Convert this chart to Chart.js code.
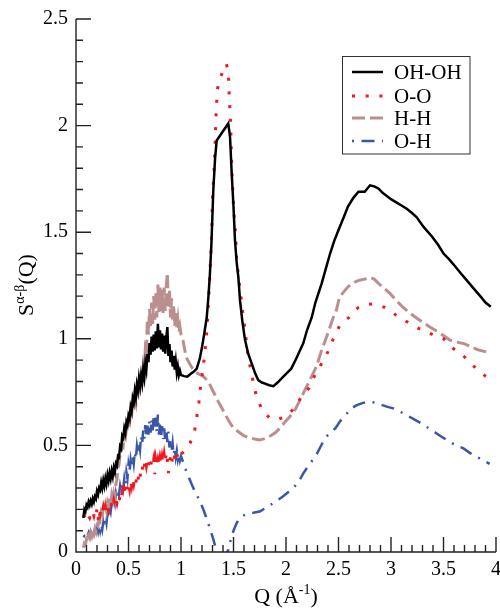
<!DOCTYPE html>
<html>
<head>
<meta charset="utf-8">
<script src="https://cdn.jsdelivr.net/npm/chart.js@4.4.1/dist/chart.umd.min.js"></script>
<style>
  html, body { margin: 0; padding: 0; background: #fff; }
  #sq { display: block; }
</style>
</head>
<body>
<canvas id="sq" width="500" height="609"></canvas>
<script>
'use strict';

const serif = '"Liberation Serif", "Times New Roman", serif';

// low-Q part (noisy), same Q grid for the four partials
const qLow = [
  0.07, 0.08, 0.09, 0.10, 0.11, 0.12, 0.13, 0.14, 0.15, 0.16,
  0.17, 0.18, 0.19, 0.20, 0.21, 0.22, 0.23, 0.24, 0.25, 0.26,
  0.27, 0.28, 0.29, 0.30, 0.31, 0.32, 0.33, 0.34, 0.35, 0.36,
  0.37, 0.38, 0.39, 0.40, 0.41, 0.42, 0.43, 0.44, 0.45, 0.46,
  0.47, 0.48, 0.49, 0.50, 0.51, 0.52, 0.53, 0.54, 0.55, 0.56,
  0.57, 0.58, 0.59, 0.60, 0.61, 0.62, 0.63, 0.64, 0.65, 0.66,
  0.67, 0.68, 0.69, 0.70, 0.71, 0.72, 0.73, 0.74, 0.75, 0.76,
  0.77, 0.78, 0.79, 0.80, 0.81, 0.82, 0.83, 0.84, 0.85, 0.86,
  0.87, 0.88, 0.89, 0.90, 0.91, 0.92, 0.93, 0.94, 0.95, 0.96,
  0.97, 0.98, 0.99, 1.00,
];

const ohohLow = [
  0.16, 0.20, 0.19, 0.22, 0.21, 0.235, 0.22, 0.24, 0.225, 0.25,
  0.235, 0.26, 0.25, 0.285, 0.27, 0.30, 0.29, 0.325, 0.30, 0.335,
  0.31, 0.345, 0.32, 0.36, 0.335, 0.37, 0.345, 0.38, 0.355, 0.395,
  0.375, 0.415, 0.405, 0.45, 0.445, 0.495, 0.485, 0.545, 0.535, 0.58,
  0.56, 0.61, 0.595, 0.64, 0.625, 0.68, 0.66, 0.72, 0.70, 0.755,
  0.725, 0.785, 0.76, 0.815, 0.78, 0.83, 0.795, 0.855, 0.82, 0.885,
  0.855, 0.93, 0.89, 0.98, 0.925, 1.01, 0.94, 1.02, 0.945, 1.035,
  0.955, 1.07, 0.96, 1.04, 0.95, 1.025, 0.94, 1.015, 0.93, 1.005,
  1.055, 0.92, 0.975, 0.89, 0.945, 0.87, 0.92, 0.855, 0.895, 0.84,
  0.87, 0.83, 0.85, 0.83,
];

const ooLow = [
  0.165, 0.17, 0.155, 0.165, 0.155, 0.17, 0.16, 0.175, 0.165, 0.185,
  0.17, 0.195, 0.175, 0.20, 0.15, 0.20, 0.18, 0.205, 0.185, 0.21,
  0.185, 0.21, 0.19, 0.215, 0.195, 0.22, 0.20, 0.23, 0.21, 0.24,
  0.22, 0.25, 0.23, 0.255, 0.235, 0.265, 0.245, 0.28, 0.26, 0.295,
  0.275, 0.31, 0.29, 0.32, 0.295, 0.335, 0.31, 0.345, 0.32, 0.35,
  0.325, 0.36, 0.335, 0.375, 0.35, 0.395, 0.38, 0.425, 0.40, 0.435,
  0.405, 0.435, 0.405, 0.43, 0.40, 0.43, 0.41, 0.435, 0.365, 0.43,
  0.40, 0.43, 0.405, 0.44, 0.41, 0.445, 0.415, 0.455, 0.42, 0.47,
  0.43, 0.37, 0.42, 0.445, 0.41, 0.45, 0.425, 0.455, 0.435, 0.46,
  0.445, 0.465, 0.45, 0.46,
];

const hhLow = [
  0.02, 0.04, 0.035, 0.06, 0.05, 0.075, 0.065, 0.09, 0.075, 0.10,
  0.085, 0.11, 0.095, 0.125, 0.12, 0.16, 0.15, 0.185, 0.17, 0.205,
  0.19, 0.22, 0.195, 0.23, 0.21, 0.25, 0.23, 0.265, 0.24, 0.275,
  0.255, 0.32, 0.34, 0.395, 0.41, 0.46, 0.465, 0.51, 0.50, 0.545,
  0.535, 0.575, 0.57, 0.615, 0.605, 0.655, 0.645, 0.69, 0.675, 0.715,
  0.695, 0.745, 0.735, 0.79, 0.77, 0.83, 0.805, 0.87, 0.84, 0.95,
  0.93, 1.09, 1.02, 1.14, 1.06, 1.17, 1.07, 1.20, 1.09, 1.22,
  1.10, 1.255, 1.12, 1.24, 1.13, 1.23, 1.12, 1.24, 1.13, 1.25,
  1.31, 1.14, 1.23, 1.10, 1.19, 1.08, 1.16, 1.06, 1.13, 1.05,
  1.09, 1.03, 1.055, 1.02,
];

const ohLow = [
  0.07, 0.075, 0.07, 0.085, 0.075, 0.09, 0.075, 0.095, 0.08, 0.10,
  0.085, 0.105, 0.09, 0.115, 0.095, 0.125, 0.10, 0.13, 0.105, 0.14,
  0.115, 0.16, 0.135, 0.185, 0.16, 0.21, 0.19, 0.235, 0.21, 0.255,
  0.23, 0.275, 0.25, 0.295, 0.27, 0.31, 0.285, 0.33, 0.30, 0.345,
  0.315, 0.375, 0.345, 0.41, 0.38, 0.43, 0.395, 0.45, 0.415, 0.47,
  0.435, 0.495, 0.46, 0.515, 0.48, 0.545, 0.505, 0.57, 0.53, 0.595,
  0.54, 0.60, 0.55, 0.615, 0.56, 0.625, 0.57, 0.635, 0.575, 0.63,
  0.56, 0.645, 0.55, 0.60, 0.535, 0.59, 0.53, 0.58, 0.52, 0.575,
  0.515, 0.565, 0.49, 0.53, 0.47, 0.51, 0.455, 0.49, 0.445, 0.475,
  0.435, 0.46, 0.43, 0.45,
];

// smooth part above Q = 1
const qOhohHigh = [
  1.03, 1.06, 1.09, 1.12, 1.15, 1.18, 1.20, 1.22, 1.245, 1.26,
  1.275, 1.29, 1.308, 1.325, 1.34, 1.45, 1.467, 1.483, 1.50, 1.514,
  1.53, 1.546, 1.562, 1.585, 1.61, 1.64, 1.673, 1.705, 1.736, 1.77,
  1.80, 1.84, 1.88, 1.92, 1.97, 2.01, 2.05, 2.10, 2.165, 2.20,
  2.245, 2.28, 2.34, 2.38, 2.42, 2.46, 2.50, 2.55, 2.59, 2.64,
  2.69, 2.75, 2.80, 2.84, 2.88, 2.92, 2.96, 3.00, 3.05, 3.10,
  3.15, 3.20, 3.245, 3.31, 3.39, 3.45, 3.50, 3.55, 3.61, 3.66,
  3.72, 3.78, 3.85, 3.90, 3.95,
];
const ohohHigh = [
  0.825, 0.822, 0.835, 0.845, 0.86, 0.91, 0.96, 1.02, 1.10, 1.19,
  1.30, 1.45, 1.70, 1.85, 1.93, 2.01, 1.947, 1.775, 1.62, 1.463,
  1.36, 1.29, 1.18, 1.08, 0.994, 0.93, 0.885, 0.84, 0.806, 0.795,
  0.79, 0.782, 0.778, 0.795, 0.82, 0.84, 0.86, 0.91, 0.98, 1.04,
  1.10, 1.17, 1.26, 1.33, 1.40, 1.46, 1.51, 1.57, 1.62, 1.66,
  1.69, 1.69, 1.72, 1.715, 1.705, 1.685, 1.67, 1.655, 1.64, 1.625,
  1.61, 1.59, 1.57, 1.525, 1.48, 1.44, 1.40, 1.375, 1.34, 1.31,
  1.275, 1.24, 1.20, 1.17, 1.15,
];

const qOoHigh = [
  1.03, 1.06, 1.086, 1.11, 1.13, 1.15, 1.17, 1.19, 1.21, 1.23,
  1.25, 1.27, 1.29, 1.30, 1.314, 1.324, 1.333, 1.346, 1.378, 1.43,
  1.45, 1.46, 1.473, 1.483, 1.50, 1.52, 1.53, 1.546, 1.578, 1.61,
  1.64, 1.69, 1.72, 1.77, 1.81, 1.85, 1.90, 1.97, 2.02, 2.07,
  2.11, 2.15, 2.22, 2.28, 2.34, 2.40, 2.45, 2.51, 2.56, 2.60,
  2.65, 2.69, 2.75, 2.82, 2.88, 2.94, 3.00, 3.05, 3.12, 3.20,
  3.28, 3.37, 3.44, 3.50, 3.55, 3.59, 3.64, 3.69, 3.74, 3.79,
  3.85, 3.90, 3.95,
];
const ooHigh = [
  0.47, 0.49, 0.51, 0.54, 0.57, 0.634, 0.70, 0.79, 0.86, 0.947,
  1.06, 1.25, 1.46, 1.66, 1.78, 1.91, 2.04, 2.17, 2.23, 2.29,
  2.26, 2.135, 2.01, 1.81, 1.62, 1.49, 1.37, 1.30, 1.166, 1.04,
  0.915, 0.79, 0.728, 0.669, 0.645, 0.627, 0.62, 0.63, 0.645, 0.67,
  0.70, 0.73, 0.77, 0.835, 0.885, 0.94, 1.00, 1.06, 1.085, 1.10,
  1.13, 1.147, 1.16, 1.163, 1.158, 1.147, 1.13, 1.11, 1.09, 1.064,
  1.045, 1.025, 1.01, 1.00, 0.975, 0.955, 0.94, 0.92, 0.895, 0.87,
  0.845, 0.825, 0.81,
];

const qHhHigh = [
  1.02, 1.048, 1.08, 1.11, 1.133, 1.15, 1.21, 1.26, 1.30, 1.35,
  1.39, 1.45, 1.50, 1.546, 1.60, 1.64, 1.70, 1.75, 1.80, 1.85,
  1.90, 1.94, 1.99, 2.04, 2.09, 2.13, 2.17, 2.21, 2.25, 2.28,
  2.31, 2.34, 2.38, 2.42, 2.45, 2.48, 2.51, 2.55, 2.59, 2.65,
  2.70, 2.75, 2.80, 2.84, 2.88, 2.94, 2.99, 3.05, 3.11, 3.18,
  3.25, 3.31, 3.37, 3.435, 3.50, 3.56, 3.62, 3.69, 3.75, 3.82,
  3.895, 3.95,
];
const hhHigh = [
  0.99, 0.915, 0.885, 0.86, 0.845, 0.84, 0.825, 0.80, 0.76, 0.71,
  0.674, 0.619, 0.58, 0.564, 0.545, 0.538, 0.53, 0.525, 0.532, 0.544,
  0.56, 0.58, 0.61, 0.637, 0.67, 0.71, 0.75, 0.79, 0.83, 0.86,
  0.90, 0.947, 1.00, 1.056, 1.10, 1.135, 1.197, 1.22, 1.244, 1.265,
  1.275, 1.28, 1.288, 1.28, 1.26, 1.235, 1.213, 1.18, 1.15, 1.12,
  1.095, 1.075, 1.055, 1.037, 1.015, 0.994, 0.985, 0.978, 0.965, 0.95,
  0.94, 0.935,
];

const qOhHigh = [
  1.05, 1.10, 1.133, 1.18, 1.22, 1.26, 1.31, 1.34, 1.37, 1.40,
  1.43, 1.45, 1.475, 1.50, 1.525, 1.546, 1.59, 1.64, 1.70, 1.75,
  1.80, 1.85, 1.91, 1.97, 2.02, 2.07, 2.12, 2.165, 2.22, 2.28,
  2.33, 2.37, 2.42, 2.47, 2.51, 2.55, 2.59, 2.625, 2.67, 2.72,
  2.76, 2.80, 2.85, 2.91, 2.96, 3.02, 3.08, 3.15, 3.22, 3.29,
  3.36, 3.435, 3.50, 3.56, 3.62, 3.69, 3.75, 3.815, 3.88, 3.94,
];
const ohHigh = [
  0.38, 0.32, 0.283, 0.24, 0.19, 0.134, 0.056, 0.0, -0.03, -0.04,
  -0.01, 0.01, 0.06, 0.10, 0.13, 0.15, 0.17, 0.18, 0.185, 0.19,
  0.205, 0.22, 0.24, 0.26, 0.28, 0.30, 0.33, 0.369, 0.41, 0.447,
  0.495, 0.533, 0.56, 0.58, 0.61, 0.634, 0.655, 0.674, 0.688, 0.697,
  0.703, 0.705, 0.70, 0.69, 0.682, 0.674, 0.66, 0.642, 0.622, 0.603,
  0.58, 0.556, 0.535, 0.517, 0.50, 0.486, 0.465, 0.447, 0.43, 0.413,
];

const seriesLabels = ['OH-OH', 'O-O', 'H-H', 'O-H'];

function points(q, s) {
  return q.map((x, i) => ({x: x, y: s[i]}));
}

// 0.5 -> "0.5", 1 -> "1"
function tickText(v) {
  return String(Math.round(v * 10) / 10);
}

const datasets = [
  {
    label:       seriesLabels[0],
    data:        points(qLow.concat(qOhohHigh), ohohLow.concat(ohohHigh)),
    borderColor: '#000',
    borderWidth: 2.5,
    borderDash:  [],
  },
  {
    label:       seriesLabels[1],
    data:        points(qLow.concat(qOoHigh), ooLow.concat(ooHigh)),
    borderColor: 'rgb(240,24,32)',
    borderWidth: 3,
    borderDash:  [3, 10.7],
  },
  {
    label:       seriesLabels[2],
    data:        points(qLow.concat(qHhHigh), hhLow.concat(hhHigh)),
    borderColor: '#bc8f8f',
    borderWidth: 3,
    borderDash:  [13, 5],
  },
  {
    label:       seriesLabels[3],
    data:        points(qLow.concat(qOhHigh), ohLow.concat(ohHigh)),
    borderColor: 'rgb(58,86,168)',
    borderWidth: 2.5,
    borderDash:  [2, 7.5, 13, 7.5],
  },
];

function richWidth(ctx, parts) {
  let w = 0;
  parts.forEach(p => {
    ctx.font = p.size + 'px ' + serif;
    w += ctx.measureText(p.t).width;
  });
  return w;
}

function drawRich(ctx, parts, x, y) {
  parts.forEach(p => {
    ctx.font = p.size + 'px ' + serif;
    ctx.fillText(p.t, x, y + p.dy);
    x += ctx.measureText(p.t).width;
  });
}

const decor = {
  id: 'decor',
  afterDraw(chart) {
    const ctx = chart.ctx;
    const a = chart.chartArea;
    const xs = chart.scales.x;
    const ys = chart.scales.y;

    ctx.save();
    // axis lines and inward ticks
    ctx.strokeStyle = '#222';
    ctx.lineWidth = 1.4;
    ctx.setLineDash([]);
    ctx.beginPath();
    ctx.moveTo(a.left, a.top);
    ctx.lineTo(a.left, a.bottom);
    ctx.lineTo(a.right, a.bottom);
    for (let i = 0; i <= 40; i++) {
      const px = xs.getPixelForValue(i / 10);
      const len = i % 5 === 0 ? 15 : 7;
      ctx.moveTo(px, a.bottom);
      ctx.lineTo(px, a.bottom - len);
    }
    for (let i = 1; i <= 25; i++) {
      const py = ys.getPixelForValue(i / 10);
      const len = i % 5 === 0 ? 15 : 7;
      ctx.moveTo(a.left, py);
      ctx.lineTo(a.left + len, py);
    }
    ctx.stroke();

    // axis titles
    ctx.fillStyle = '#000';
    ctx.textBaseline = 'alphabetic';
    ctx.textAlign = 'left';
    const xTitle = [
      {t: 'Q (Å', size: 22, dy: 0},
      {t: '-1', size: 14, dy: -9},
      {t: ')', size: 22, dy: 0},
    ];
    const xw = richWidth(ctx, xTitle);
    drawRich(ctx, xTitle, (a.left + a.right) / 2 - xw / 2, 603);

    const yTitle = [
      {t: 'S', size: 22, dy: 0},
      {t: 'α-β', size: 14, dy: -9},
      {t: '(Q)', size: 22, dy: 0},
    ];
    const yw = richWidth(ctx, yTitle);
    ctx.save();
    ctx.translate(33, 285);
    ctx.rotate(-Math.PI / 2);
    drawRich(ctx, yTitle, -yw / 2, 0);
    ctx.restore();

    // legend box
    ctx.strokeStyle = '#333';
    ctx.lineWidth = 1;
    ctx.strokeRect(342.5, 56.5, 127.5, 97.5);
    const rows = [72, 96, 118, 141];
    chart.data.datasets.forEach((ds, i) => {
      ctx.save();
      ctx.strokeStyle = ds.borderColor;
      ctx.lineWidth = ds.borderWidth;
      ctx.setLineDash(ds.borderDash);
      ctx.beginPath();
      ctx.moveTo(352, rows[i]);
      ctx.lineTo(383, rows[i]);
      ctx.stroke();
      ctx.restore();
      ctx.fillStyle = '#000';
      ctx.font = '21px ' + serif;
      ctx.textBaseline = 'middle';
      ctx.fillText(ds.label, 394, rows[i] + 1);
    });
    ctx.restore();
  },
};

new Chart(document.getElementById('sq'), {
  type:    'line',
  data:    {datasets: datasets},
  options: {
    responsive:       false,
    animation:        false,
    devicePixelRatio: 1,
    layout:           {padding: {top: 19, right: 4, left: 0, bottom: 0}},
    elements:         {
      point: {radius: 0},
      line:  {tension: 0, borderCapStyle: 'butt', fill: false},
    },
    scales:           {
      x: {
        type:   'linear',
        min:    0,
        max:    4,
        grid:   {display: false, drawTicks: false, tickLength: 0},
        border: {display: false},
        ticks:  {
          stepSize:    0.5,
          autoSkip:    false,
          maxRotation: 0,
          padding:     6,
          color:       '#000',
          font:        {family: serif, size: 20},
          callback:    tickText,
        },
        afterFit(scale) {
          scale.height = 57;
          // let the last label hang over the edge, as in the original
          scale.paddingLeft = 0;
          scale.paddingRight = 0;
        },
      },
      y: {
        type:   'linear',
        min:    0,
        max:    2.5,
        grid:   {display: false, drawTicks: false, tickLength: 0},
        border: {display: false},
        ticks:  {
          stepSize: 0.5,
          padding:  8,
          color:    '#000',
          font:     {family: serif, size: 20},
          callback: tickText,
        },
        afterFit(scale) {
          scale.width = 76;
          scale.paddingTop = 0;
          scale.paddingBottom = 0;
        },
      },
    },
    plugins:          {
      legend:  {display: false},
      tooltip: {enabled: false},
    },
  },
  plugins: [decor],
});
</script>
</body>
</html>
